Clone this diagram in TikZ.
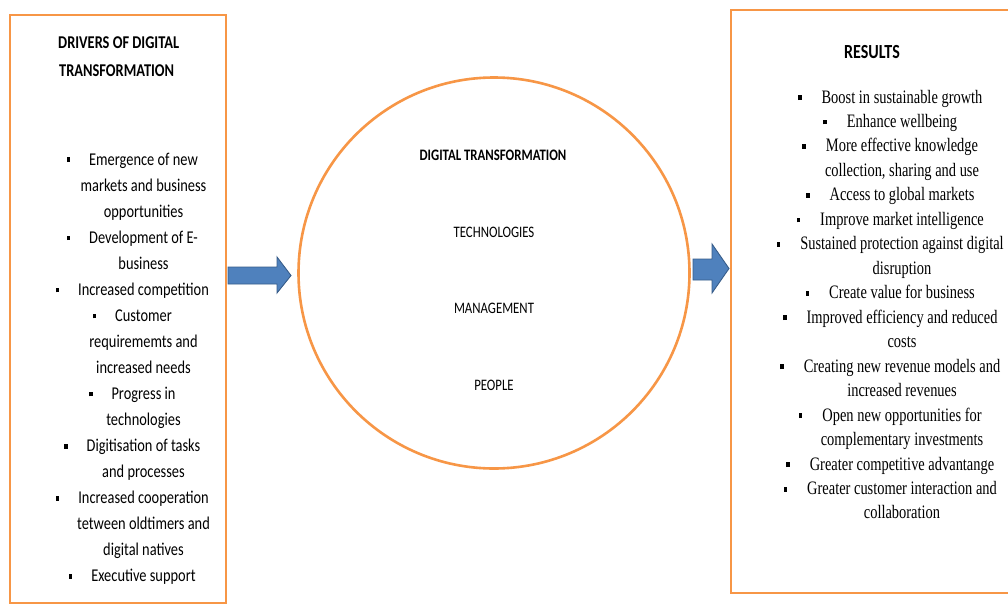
\documentclass[tikz,border=0pt]{standalone}
\usepackage{fontspec}
\newfontfamily\calfont[FakeStretch=0.8]{Carlito}
\newfontfamily\tmsfont[FakeStretch=0.76]{Liberation Serif}
\definecolor{boxorange}{HTML}{F79646}
\definecolor{arrowblue}{HTML}{4F81BD}
\definecolor{arrowedge}{HTML}{385D8A}
\newcommand{\lbul}{\llap{\raisebox{3pt}{\rule{3.6pt}{4.6pt}}\hspace{19pt}}}
\newcommand{\rbul}{\llap{\raisebox{3pt}{\rule{3.6pt}{4.8pt}}\hspace{20pt}}}
\tikzset{
  frame/.style={draw=boxorange, line width=2.6pt},
  blockarrow/.style={fill=arrowblue, draw=arrowedge, line width=0.9pt, line join=miter},
  ltext/.style={inner sep=0pt, anchor=base, font=\calfont\fontsize{18}{20}\selectfont},
  lhead/.style={inner sep=0pt, anchor=base west, font=\calfont\bfseries\fontsize{18}{20}\selectfont},
  ctext/.style={inner sep=0pt, anchor=base, font=\calfont\fontsize{16}{18}\selectfont},
  chead/.style={inner sep=0pt, anchor=base, font=\calfont\bfseries\fontsize{16}{18}\selectfont},
  rtext/.style={inner sep=0pt, anchor=base, font=\tmsfont\fontsize{19}{21}\selectfont},
  rhead/.style={inner sep=0pt, anchor=base, font=\calfont\bfseries\fontsize{20}{22}\selectfont},
}
\begin{document}
\begin{tikzpicture}[x=1pt,y=-1pt]
\useasboundingbox (0,0) rectangle (1008,605);
\clip (0,0) rectangle (1008,605);
\fill[white] (0,0) rectangle (1008,605);

% left box
\draw[frame] (10,15) rectangle (226,603);
\node[lhead] (lh1) at (58,48) {DRIVERS OF DIGITAL};
\node[lhead] (lh2) at (59,76) {TRANSFORMATION};
\foreach \t [count=\i] in {
  \lbul Emergence of new, markets and business, opportunities,
  \lbul Development of E-, business,
  \lbul Increased competition,
  \lbul Customer, requirememts and, increased needs,
  \lbul Progress in, technologies,
  \lbul Digitisation of tasks, and processes,
  \lbul Increased cooperation, tetween oldtimers and, digital natives,
  \lbul Executive support}
  \node[ltext] (dl\i) at (143.5,{165+(\i-1)*26.05}) {\t};

% circle
\node[circle, frame, minimum size=391pt, inner sep=0pt] (dt) at (494,273) {};
\node[chead] (dth) at (493,160) {DIGITAL TRANSFORMATION};
\node[ctext] (tech) at (494,237) {TECHNOLOGIES};
\node[ctext] (mgmt) at (494,313) {MANAGEMENT};
\node[ctext] (ppl) at (494,390) {PEOPLE};

% arrows
\filldraw[blockarrow] (228,267) -- (277,267) -- (277,257) -- (291,275.5) -- (277,293) -- (277,284) -- (228,284) -- cycle;
\filldraw[blockarrow] (693,259) -- (712,259) -- (712,244) -- (729,268.5) -- (712,293) -- (712,280) -- (693,280) -- cycle;

% right box
\draw[frame] (731,10) rectangle (1015,593);
\node[rhead] (rh) at (872,58) {RESULTS};
\foreach \t [count=\i] in {
  \rbul Boost in sustainable growth,
  \rbul Enhance wellbeing,
  \rbul More effective knowledge, {collection, sharing and use},
  \rbul Access to global markets,
  \rbul Improve market intelligence,
  \rbul Sustained protection against digital, disruption,
  \rbul Create value for business,
  \rbul Improved efficiency and reduced, costs,
  \rbul Creating new revenue models and, increased revenues,
  \rbul Open new opportunities for, complementary investments,
  \rbul Greater competitive advantange,
  \rbul Greater customer interaction and, collaboration}
  \node[rtext] (rs\i) at (902,{103+(\i-1)*24.47}) {\t};
\end{tikzpicture}
\end{document}
